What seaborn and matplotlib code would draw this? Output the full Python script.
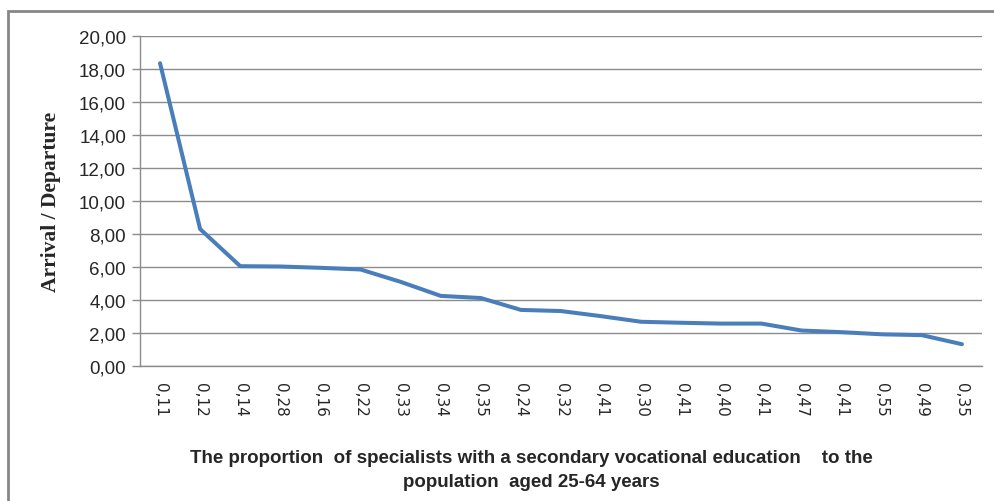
import numpy as np
import matplotlib
matplotlib.use('Agg')
import matplotlib.pyplot as plt
import matplotlib.patches as mpatches
import seaborn as sns
import pandas as pd

# share of specialists with secondary vocational education (category labels)
share_labels = ['0,11', '0,12', '0,14', '0,28', '0,16', '0,22', '0,33',
                '0,34', '0,35', '0,24', '0,32', '0,41', '0,30', '0,41',
                '0,40', '0,41', '0,47', '0,41', '0,55', '0,49', '0,35']
# arrival / departure ratio
arrival_departure = [18.35, 8.30, 6.05, 6.03, 5.95, 5.85, 5.10,
                     4.25, 4.12, 3.40, 3.33, 3.02, 2.68, 2.62,
                     2.57, 2.57, 2.15, 2.05, 1.92, 1.87, 1.32]
y_ticks = [0, 2, 4, 6, 8, 10, 12, 14, 16, 18, 20]

sns.set_style('white')
plt.rcParams['font.family'] = ['Liberation Sans', 'DejaVu Sans']

df = pd.DataFrame({'pos': np.arange(len(share_labels)),
                   'value': arrival_departure})

fig = plt.figure(figsize=(9.94, 5.02), dpi=100)
ax = fig.add_axes([140 / 994, 1 - 367 / 502, 842 / 994, 330 / 502])

sns.lineplot(data=df, x='pos', y='value', ax=ax, color='#4A7EBB',
             linewidth=2.9, solid_capstyle='round', solid_joinstyle='round')

ax.set_xlim(-0.5, len(share_labels) - 0.5)
ax.set_ylim(0, 20)
ax.set_yticks(y_ticks)
ax.set_yticklabels([f'{t:.2f}'.replace('.', ',') for t in y_ticks],
                   fontsize=13.5)
ax.set_xticks(df['pos'])
ax.set_xticklabels(share_labels, rotation=-90, fontsize=11,
                   family='DejaVu Sans')

ax.grid(axis='y', color='#8c8c8c', linewidth=1.0)
ax.set_axisbelow(True)
for side in ['top', 'right']:
    ax.spines[side].set_visible(False)
for side in ['left', 'bottom']:
    ax.spines[side].set_color('#8c8c8c')
    ax.spines[side].set_linewidth(1.0)

ax.tick_params(axis='y', which='both', left=True, length=6, width=1,
               color='#8c8c8c', pad=4)
ax.tick_params(axis='x', bottom=False, pad=8)

ax.set_ylabel('Arrival / Departure', fontsize=15.5, fontweight='bold',
              family='Liberation Serif')
ax.yaxis.set_label_coords(-0.094, 0.5)
ax.set_xlabel('The proportion  of specialists with a secondary vocational education    to the\n'
              'population  aged 25-64 years', fontsize=13.5, fontweight='bold',
              linespacing=1.5)
ax.xaxis.set_label_coords(0.465, -0.253)
ax.xaxis.label.set_verticalalignment('top')

# outer chart frame
frame = mpatches.Rectangle((8 / 994, -0.1), 1.2, 1 - 12 / 502 + 0.1,
                           transform=fig.transFigure, fill=False,
                           edgecolor='#868686', linewidth=2.0)
fig.patches.append(frame)

plt.savefig('out.png', dpi=100)
plt.close()
